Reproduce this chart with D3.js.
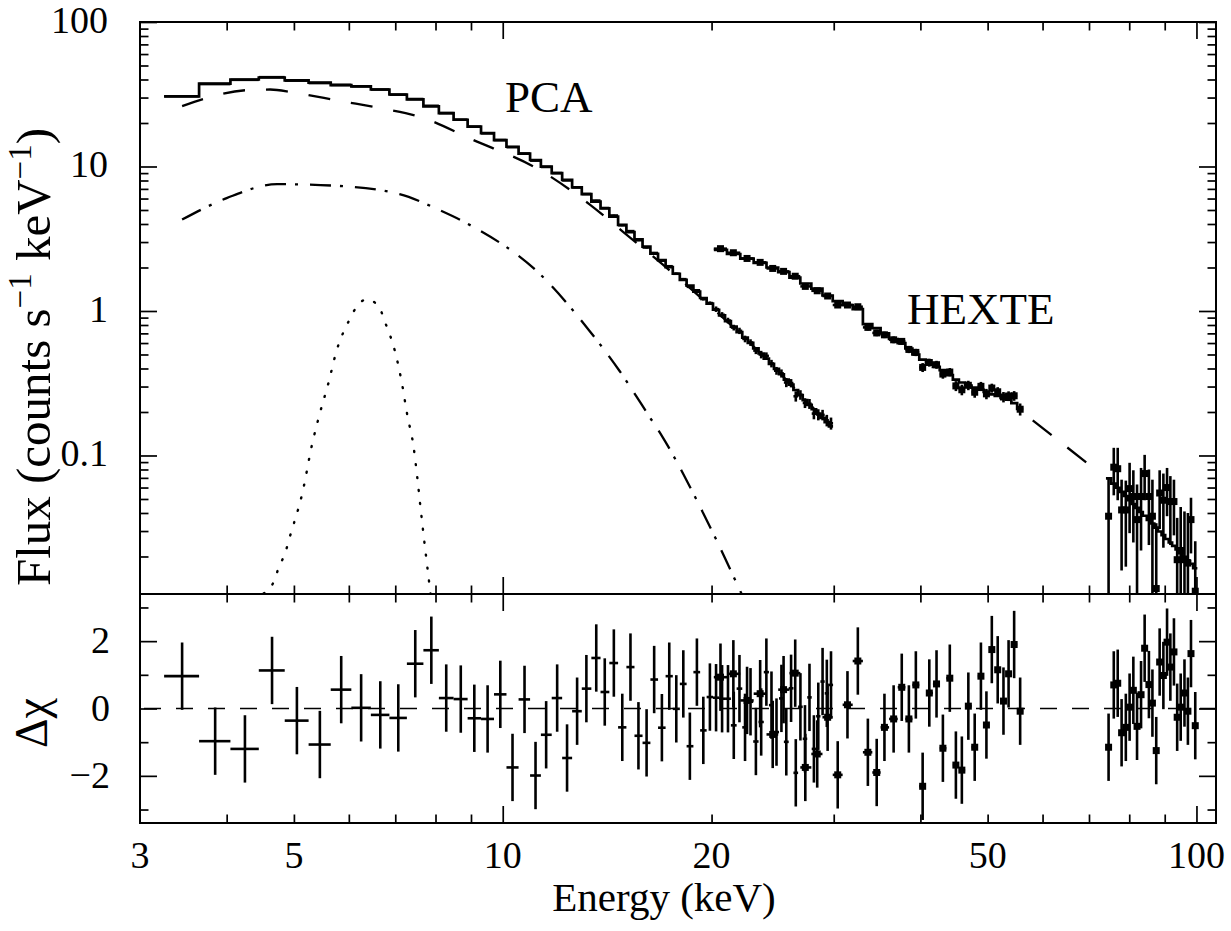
<!DOCTYPE html>
<html>
<head>
<meta charset="utf-8">
<title>PCA + HEXTE spectrum</title>
<script src="https://cdn.jsdelivr.net/npm/d3@7"></script>
<style>
  body { margin: 0; background: #fff; }
  svg text { font-family: "Liberation Serif", "Tinos", "Times New Roman", "DejaVu Serif", "Noto Serif", serif; fill: #000; }
</style>
</head>
<body>
<svg id="chart" width="1231" height="931" font-family="Liberation Serif, DejaVu Serif, serif"></svg>
<script>
// ---- values ----
// PCA channels (keV), counts s^-1 keV^-1
var pcaEnergy = [3.45, 3.85, 4.25, 4.65, 5.05, 5.45, 5.85, 6.25, 6.66, 7.07,
    7.48, 7.89, 8.29, 8.70, 9.10, 9.51, 9.92, 10.33, 10.75, 11.15,
    11.55, 11.98, 12.38, 12.80, 13.20, 13.64, 14.03, 14.46, 14.87, 15.28,
    15.69, 16.12, 16.53, 16.96, 17.38, 17.79, 18.21, 18.61, 19.05, 19.46,
    19.89, 20.30, 20.71, 21.12, 21.53, 21.94, 22.35, 22.76, 23.17, 23.58,
    23.99, 24.40, 24.81, 25.22, 25.63, 26.04, 26.45, 26.86, 27.27, 27.68,
    28.09, 28.50, 28.91, 29.32, 29.73];
var pcaFlux = [30.6, 37.2, 39.8, 41.5, 39.3, 37.8, 36.7, 35.9, 34.1, 31.4,
    29.3, 26.3, 23.4, 21.1, 18.85, 16.97, 15.24, 13.6, 12.29, 10.98,
    9.93, 9.01, 8.01, 7.17, 6.45, 5.81, 5.16, 4.58, 3.92, 3.57,
    3.09, 2.75, 2.52, 2.23, 2.04, 1.81, 1.66, 1.47, 1.39, 1.21,
    1.134, 1.030, 0.940, 0.859, 0.768, 0.729, 0.641, 0.605, 0.532, 0.500,
    0.489, 0.433, 0.386, 0.370, 0.320, 0.317, 0.257, 0.263, 0.231, 0.228,
    0.195, 0.192, 0.191, 0.175, 0.167];
var pcaErr = [0.15, 0.18, 0.2, 0.2, 0.2, 0.19, 0.18, 0.18, 0.17, 0.16,
    0.15, 0.14, 0.13, 0.12, 0.11, 0.1, 0.09, 0.085, 0.08, 0.078,
    0.075, 0.074, 0.073, 0.072, 0.071, 0.07, 0.065, 0.06, 0.055, 0.05,
    0.048, 0.045, 0.042, 0.04, 0.037, 0.035, 0.033, 0.031, 0.03, 0.028,
    0.03, 0.045, 0.042, 0.039, 0.035, 0.037, 0.034, 0.032, 0.029, 0.030,
    0.028, 0.026, 0.024, 0.024, 0.023, 0.021, 0.021, 0.020, 0.018, 0.018,
    0.017, 0.017, 0.016, 0.016, 0.016];
var pcaModel = [30.5, 37.4, 40.0, 41.3, 39.4, 38.0, 36.6, 35.9, 34.1, 31.5,
    29.1, 26.1, 23.4, 21.06, 18.87, 17.0, 15.21, 13.70, 12.27, 11.09,
    9.97, 9.00, 8.07, 7.17, 6.43, 5.71, 5.13, 4.50, 3.95, 3.51,
    3.13, 2.79, 2.49, 2.25, 2.01, 1.81, 1.64, 1.50, 1.36, 1.23,
    1.125, 1.02, 0.932, 0.851, 0.779, 0.714, 0.654, 0.601, 0.551, 0.508,
    0.468, 0.431, 0.397, 0.365, 0.335, 0.309, 0.284, 0.262, 0.242, 0.224,
    0.209, 0.195, 0.182, 0.170, 0.159];
var pcaDelchi = [0.96, -0.97, -1.2, 1.13, -0.36, -1.07, 0.56, 0.02, -0.19, -0.28,
    1.33, 1.73, 0.31, 0.28, -0.29, -0.31, 0.42, -1.75, 0.27, -1.99,
    -0.78, 0.31, -1.47, -0.08, 0.59, 1.50, 0.49, 1.35, -0.56, 1.23,
    -0.81, -1.02, 0.86, -0.57, 0.96, -0.01, 0.73, -1.12, 1.08, -0.65,
    0.34, 0.32, 0.29, 0.29, -0.5, 0.59, -0.56, 0.2, -0.98, -0.4,
    1.08, 0.1, -0.7, 0.3, -0.99, 0.6, -1.91, 0.05, -0.9, 0.33,
    -1.2, -0.23, 0.8, 0.45, 0.7];

// HEXTE, low-energy group
var hexteLoEnergy = [20.6, 21.5, 22.5, 23.5, 24.5, 25.4, 26.4, 27.3, 28.4, 29.4,
    30.4, 31.4, 32.5, 33.6, 34.6, 35.5, 36.6, 37.6, 38.5, 39.4,
    40.3, 41.2, 42.2, 43.1, 44.1, 45.0, 45.9, 46.9, 47.9, 48.9,
    49.8, 50.7, 51.7, 52.7, 53.6, 54.6, 55.7];
var hexteLoFlux = [2.70, 2.53, 2.31, 2.17, 1.97, 1.88, 1.74, 1.48, 1.38, 1.27,
    1.10, 1.10, 1.07, 0.77, 0.705, 0.684, 0.632, 0.616, 0.542, 0.517,
    0.407, 0.44, 0.425, 0.366, 0.378, 0.303, 0.285, 0.306, 0.274, 0.301,
    0.267, 0.293, 0.276, 0.254, 0.258, 0.259, 0.209];
var hexteLoErr = [0.06, 0.06, 0.058, 0.056, 0.054, 0.052, 0.05, 0.048, 0.045, 0.043,
    0.041, 0.04, 0.039, 0.037, 0.036, 0.035, 0.034, 0.033, 0.031, 0.03,
    0.029, 0.028, 0.027, 0.026, 0.025, 0.024, 0.024, 0.023, 0.023, 0.022,
    0.022, 0.021, 0.021, 0.021, 0.02, 0.02, 0.02];
var hexteLoModel = [2.65, 2.48, 2.30, 2.15, 2.00, 1.86, 1.70, 1.55, 1.43, 1.28,
    1.17, 1.10, 1.03, 0.81, 0.76, 0.70, 0.64, 0.60, 0.55, 0.50,
    0.46, 0.43, 0.41, 0.39, 0.36, 0.335, 0.32, 0.305, 0.295, 0.285,
    0.275, 0.265, 0.258, 0.25, 0.243, 0.23, 0.21];
var hexteLoDelchi = [0.93, 1.03, 0.24, 0.44, -0.77, 0.56, 1.05, -1.75, -1.35, -0.26,
    -1.97, 0.11, 1.41, -1.30, -1.90, -0.56, -0.31, 0.63, -0.31, 0.70,
    -2.31, 0.46, 0.73, -1.18, 0.90, -1.68, -1.83, 0.07, -1.15, 0.96,
    -0.49, 1.75, 1.15, 0.22, 1.03, 1.90, -0.08];

// HEXTE, high-energy group
var hexteHiEnergy = [74.7, 76.0, 77.0, 78.0, 79.1, 80.1, 81.1, 82.1, 83.2, 84.2,
    85.4, 86.4, 87.5, 88.5, 89.6, 90.7, 91.7, 92.8, 93.8, 94.9,
    96.1, 97.2, 98.2, 99.6];
var hexteHiFlux = [0.038, 0.083, 0.081, 0.042, 0.042, 0.059, 0.052, 0.036, 0.052, 0.075,
    0.052, 0.038, 0.012, 0.055, 0.049, 0.060, 0.048, 0.048, 0.019, 0.022,
    0.019, 0.018, 0.036, 0.0115];
var hexteHiErr = [0.032, 0.03, 0.032, 0.026, 0.025, 0.03, 0.027, 0.027, 0.03, 0.026,
    0.028, 0.03, 0.022, 0.024, 0.026, 0.022, 0.024, 0.02, 0.018, 0.022,
    0.022, 0.022, 0.015, 0.014];
var hexteHiModel = [0.0694, 0.0639, 0.0598, 0.056, 0.0524, 0.049, 0.0462, 0.0434, 0.0406, 0.0383,
    0.0358, 0.0338, 0.0317, 0.0298, 0.0281, 0.0264, 0.025, 0.0237, 0.0224, 0.0211,
    0.0199, 0.0188, 0.0178, 0.0166];
var hexteHiDelchi = [-1.15, 0.70, 0.75, -0.72, -0.56, 0.04, 0.54, -0.53, 0.41, 1.79,
    0.71, 0.16, -1.25, 1.38, 0.98, 1.97, 1.23, 1.68, -0.26, 0.04,
    0.46, -0.08, 1.63, -0.51];

// model components
var contEnergy = [3.45, 3.70, 4.29, 4.62, 4.99, 5.83, 6.77, 7.59, 9.0, 11.33, 13.34, 14.88, 17.0, 20.0, 23.0, 26.0, 29.73];
var contFlux = [26.2, 29.3, 33.8, 34.1, 32.5, 28.4, 25.0, 22.1, 15.5, 9.4, 5.47, 3.56, 2.10, 1.06, 0.567, 0.311, 0.159];
var softEnergy = [3.45, 4.0, 4.73, 5.70, 7.10, 8.1, 9.0, 11.33, 13.34, 14.73, 16.28, 17.0, 19.4, 22.1];
var softFlux = [4.29, 6.04, 7.55, 7.37, 6.44, 5.0, 3.9, 1.79, 0.728, 0.386, 0.185, 0.134, 0.041, 0.011];
var lineEnergy = [4.52, 4.67, 4.76, 4.86, 4.93, 5.15, 5.31, 5.45, 5.61, 5.76, 6.00, 6.17, 6.36,
    6.62, 6.77, 7.00, 7.16, 7.28, 7.44, 7.53, 7.61, 7.87];
var lineFlux = [0.0111, 0.0132, 0.017, 0.0213, 0.0271, 0.0567, 0.119, 0.196, 0.320, 0.530, 0.853, 1.083, 1.204,
    1.083, 0.831, 0.516, 0.312, 0.194, 0.114, 0.0708, 0.044, 0.011];
var hexteGapEnergy = [55.7, 72.7];
var hexteGapFlux = [0.205, 0.075];

// axes
var xMinorTicks = [4, 5, 6, 7, 8, 9, 20, 30, 40, 50, 60, 70, 80, 90];
var xMajorTicks = [10, 100];
var xTickLabels = [3, 5, 10, 20, 50, 100];
var fluxMajorTicks = [0.1, 1, 10, 100];
var fluxMinorTicks = [0.02, 0.03, 0.04, 0.05, 0.06, 0.07, 0.08, 0.09,
    0.2, 0.3, 0.4, 0.5, 0.6, 0.7, 0.8, 0.9, 2, 3, 4, 5, 6, 7, 8, 9,
    20, 30, 40, 50, 60, 70, 80, 90];
var resMajorTicks = [-2, 0, 2];
var resMinorTicks = [-3, -1, 1, 3];

// ---- drawing ----
var svg = d3.select("#chart");
var frameL = 140, frameR = 1216, frameT = 22, frameM = 594, frameB = 823;

var x = d3.scaleLog().domain([3, 106.7]).range([frameL, frameR]);
var yFlux = d3.scaleLog().domain([0.011, 100]).range([frameM, frameT]);
var yRes = d3.scaleLinear().domain([-3.4, 3.4]).range([frameB, frameM]);

var defs = svg.append("defs");
defs.append("clipPath").attr("id", "clipTop").append("rect")
    .attr("x", frameL).attr("y", frameT).attr("width", frameR - frameL).attr("height", frameM - frameT);
defs.append("clipPath").attr("id", "clipRes").append("rect")
    .attr("x", frameL).attr("y", frameM).attr("width", frameR - frameL).attr("height", frameB - frameM);

function binEdges(c) {
    var lo = [], hi = [];
    for (var i = 0; i < c.length; i++) {
        lo.push(i > 0 ? (c[i - 1] + c[i]) / 2 : c[0] - (c[1] - c[0]) / 2);
        hi.push(i < c.length - 1 ? (c[i] + c[i + 1]) / 2 : c[i] + (c[i] - c[i - 1]) / 2);
    }
    return {lo: lo, hi: hi};
}

function stepPoints(energy, model) {
    var ed = binEdges(energy), pts = [];
    for (var i = 0; i < energy.length; i++) {
        pts.push([ed.lo[i], model[i]]);
        pts.push([ed.hi[i], model[i]]);
    }
    return pts;
}

function zip(a, b) {
    return a.map(function (v, i) { return [v, b[i]]; });
}

// crosses: bin width horizontally, error vertically
function drawCrosses(g, energy, val, err, yScale, minVal) {
    var ed = binEdges(energy);
    for (var i = 0; i < energy.length; i++) {
        var lo = val[i] - err[i];
        if (minVal && lo < minVal) lo = minVal;
        g.append("line")
            .attr("x1", x(ed.lo[i])).attr("x2", x(ed.hi[i]))
            .attr("y1", yScale(val[i])).attr("y2", yScale(val[i]));
        g.append("line")
            .attr("x1", x(energy[i])).attr("x2", x(energy[i]))
            .attr("y1", yScale(lo)).attr("y2", yScale(val[i] + err[i]));
    }
}

function drawSquares(g, energy, val, yScale, size) {
    for (var i = 0; i < energy.length; i++) {
        g.append("rect")
            .attr("x", x(energy[i]) - size / 2).attr("y", yScale(val[i]) - size / 2)
            .attr("width", size).attr("height", size)
            .attr("fill", "#000");
    }
}

var lineStep = d3.line().x(function (d) { return x(d[0]); }).y(function (d) { return yFlux(d[1]); });
var lineSmooth = d3.line().curve(d3.curveMonotoneX)
    .x(function (d) { return x(d[0]); }).y(function (d) { return yFlux(d[1]); });

// top panel
var gTop = svg.append("g").attr("clip-path", "url(#clipTop)");

gTop.append("path").datum(zip(contEnergy, contFlux)).attr("d", lineSmooth)
    .attr("fill", "none").attr("stroke", "#000").attr("stroke-width", 2.3)
    .attr("stroke-dasharray", "22,21");
gTop.append("path").datum(zip(softEnergy, softFlux)).attr("d", lineSmooth)
    .attr("fill", "none").attr("stroke", "#000").attr("stroke-width", 2.3)
    .attr("stroke-dasharray", "21,9,3,12");
gTop.append("path").datum(zip(lineEnergy, lineFlux)).attr("d", lineSmooth)
    .attr("fill", "none").attr("stroke", "#000").attr("stroke-width", 2.4)
    .attr("stroke-linecap", "round").attr("stroke-dasharray", "1,12");
gTop.append("path").datum(zip(hexteGapEnergy, hexteGapFlux)).attr("d", lineStep)
    .attr("fill", "none").attr("stroke", "#000").attr("stroke-width", 2.3)
    .attr("stroke-dasharray", "24,20").attr("stroke-dashoffset", -16);

gTop.append("path").datum(stepPoints(pcaEnergy, pcaModel)).attr("d", lineStep)
    .attr("fill", "none").attr("stroke", "#000").attr("stroke-width", 2.7);
gTop.append("path").datum(stepPoints(hexteLoEnergy, hexteLoModel)).attr("d", lineStep)
    .attr("fill", "none").attr("stroke", "#000").attr("stroke-width", 2.7);
gTop.append("path").datum(stepPoints(hexteHiEnergy, hexteHiModel)).attr("d", lineStep)
    .attr("fill", "none").attr("stroke", "#000").attr("stroke-width", 2.6);

var gTopData = gTop.append("g").attr("stroke", "#000").attr("stroke-width", 2.6);
drawCrosses(gTopData, pcaEnergy, pcaFlux, pcaErr, yFlux, 0.005);
drawCrosses(gTopData, hexteLoEnergy, hexteLoFlux, hexteLoErr, yFlux, 0.005);
drawCrosses(gTopData, hexteHiEnergy, hexteHiFlux, hexteHiErr, yFlux, 0.005);
drawSquares(gTop, hexteLoEnergy, hexteLoFlux, yFlux, 7);
drawSquares(gTop, hexteHiEnergy, hexteHiFlux, yFlux, 7);

// residual panel
var gRes = svg.append("g").attr("clip-path", "url(#clipRes)");
gRes.append("line")
    .attr("x1", frameL).attr("x2", frameR).attr("y1", yRes(0)).attr("y2", yRes(0))
    .attr("stroke", "#000").attr("stroke-width", 1.4).attr("stroke-dasharray", "17,15")
    .attr("stroke-dashoffset", -4);

function ones(n) { return d3.range(n).map(function () { return 1; }); }

var gResData = gRes.append("g").attr("stroke", "#000").attr("stroke-width", 2.6);
drawCrosses(gResData, pcaEnergy, pcaDelchi, ones(pcaEnergy.length), yRes);
drawCrosses(gResData, hexteLoEnergy, hexteLoDelchi, ones(hexteLoEnergy.length), yRes);
drawCrosses(gResData, hexteHiEnergy, hexteHiDelchi, ones(hexteHiEnergy.length), yRes);
drawSquares(gRes, hexteLoEnergy, hexteLoDelchi, yRes, 7);
drawSquares(gRes, hexteHiEnergy, hexteHiDelchi, yRes, 7);

// ticks (inward, on all four sides of both panels)
var majorLen = 17, minorLen = 8.5;
function tickAxis(axisFn, scale, values, len, tx, ty) {
    var g = svg.append("g").attr("transform", "translate(" + tx + "," + ty + ")")
        .call(axisFn(scale).tickValues(values).tickSize(-len).tickFormat(""));
    g.select(".domain").remove();
    g.selectAll(".tick line").attr("stroke", "#000").attr("stroke-width", 1.7);
}
tickAxis(d3.axisTop, x, xMinorTicks, minorLen, 0, frameT);
tickAxis(d3.axisTop, x, xMajorTicks, majorLen, 0, frameT);
tickAxis(d3.axisBottom, x, xMinorTicks, minorLen, 0, frameM);
tickAxis(d3.axisBottom, x, xMajorTicks, majorLen, 0, frameM);
tickAxis(d3.axisTop, x, xMinorTicks, minorLen, 0, frameM);
tickAxis(d3.axisTop, x, xMajorTicks, majorLen, 0, frameM);
tickAxis(d3.axisBottom, x, xMinorTicks, minorLen, 0, frameB);
tickAxis(d3.axisBottom, x, xMajorTicks, majorLen, 0, frameB);
tickAxis(d3.axisLeft, yFlux, fluxMinorTicks, minorLen, frameL, 0);
tickAxis(d3.axisLeft, yFlux, fluxMajorTicks, majorLen, frameL, 0);
tickAxis(d3.axisRight, yFlux, fluxMinorTicks, minorLen, frameR, 0);
tickAxis(d3.axisRight, yFlux, fluxMajorTicks, majorLen, frameR, 0);
tickAxis(d3.axisLeft, yRes, resMinorTicks, minorLen, frameL, 0);
tickAxis(d3.axisLeft, yRes, resMajorTicks, majorLen, frameL, 0);
tickAxis(d3.axisRight, yRes, resMinorTicks, minorLen, frameR, 0);
tickAxis(d3.axisRight, yRes, resMajorTicks, majorLen, frameR, 0);

// frames
svg.append("rect").attr("x", frameL).attr("y", frameT)
    .attr("width", frameR - frameL).attr("height", frameM - frameT)
    .attr("fill", "none").attr("stroke", "#000").attr("stroke-width", 2);
svg.append("rect").attr("x", frameL).attr("y", frameM)
    .attr("width", frameR - frameL).attr("height", frameB - frameM)
    .attr("fill", "none").attr("stroke", "#000").attr("stroke-width", 2);

// tick labels
function minusSign(d) { return d < 0 ? "\u2212" + (-d) : String(d); }

svg.selectAll(".xlab").data(xTickLabels).enter().append("text")
    .attr("class", "xlab")
    .attr("x", function (d) { return x(d); }).attr("y", 868)
    .attr("text-anchor", "middle").style("font-size", "38px")
    .text(function (d) { return d; });

svg.selectAll(".yflab").data(fluxMajorTicks).enter().append("text")
    .attr("class", "yflab")
    .attr("x", 108).attr("y", function (d) { return yFlux(d) + 11; })
    .attr("text-anchor", "end").style("font-size", "38px")
    .text(function (d) { return d; });

svg.selectAll(".yrlab").data(resMajorTicks).enter().append("text")
    .attr("class", "yrlab")
    .attr("x", 110).attr("y", function (d) { return yRes(d) + 12; })
    .attr("text-anchor", "end").style("font-size", "38px")
    .text(minusSign);

// axis titles
svg.append("text").attr("x", 664).attr("y", 911)
    .attr("text-anchor", "middle").style("font-size", "41px")
    .text("Energy (keV)");

var yTitle = svg.append("text")
    .attr("transform", "translate(50,357) rotate(-90)")
    .attr("text-anchor", "middle").style("font-size", "49px");
yTitle.append("tspan").text("Flux (counts s");
yTitle.append("tspan").attr("dy", -19).style("font-size", "33px").text("\u22121");
yTitle.append("tspan").attr("dy", 19).text(" keV");
yTitle.append("tspan").attr("dy", -19).style("font-size", "33px").text("\u22121");
yTitle.append("tspan").attr("dy", 19).text(")");

svg.append("text")
    .attr("transform", "translate(47,723) rotate(-90)")
    .attr("text-anchor", "middle").style("font-size", "46px")
    .text("\u0394\u03c7");

// instrument labels
svg.append("text").attr("x", 505).attr("y", 112).style("font-size", "45px").text("PCA");
svg.append("text").attr("x", 907).attr("y", 324).style("font-size", "45px").text("HEXTE");
</script>
</body>
</html>
